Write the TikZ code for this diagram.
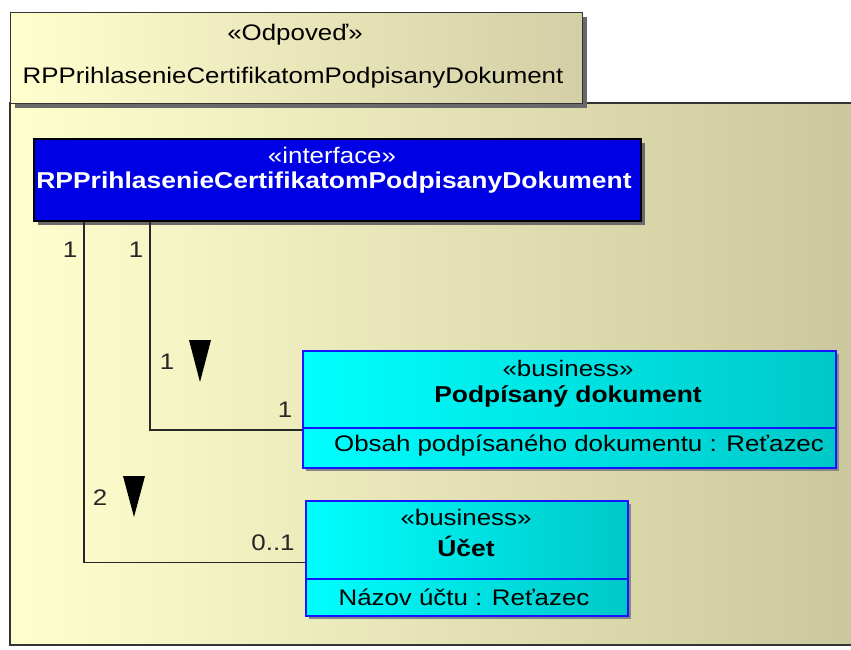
\documentclass[tikz,border=0pt]{standalone}
\usepackage{fontspec}
\setmainfont{Liberation Sans}[FakeStretch=1.15]
\usetikzlibrary{shadows}
\definecolor{pkL}{RGB}{255,255,206}
\definecolor{pkR}{RGB}{204,200,157}
\definecolor{tabR}{RGB}{212,207,166}
\definecolor{ifblue}{RGB}{0,0,228}
\definecolor{cyL}{RGB}{0,255,255}
\definecolor{cyR}{RGB}{0,200,200}
\definecolor{bizline}{RGB}{20,20,255}
\definecolor{shd}{RGB}{105,105,105}
\definecolor{lnc}{RGB}{40,40,40}
\tikzset{
  every node/.style={font=\fontsize{22.5pt}{27pt}\selectfont, inner sep=0pt},
  boldtxt/.style={font=\fontsize{23pt}{27pt}\selectfont\bfseries},
  boxshadow/.style={general shadow={fill=shd, shadow xshift=4pt, shadow yshift=-4pt}},
  pkgtab/.style={rectangle, anchor=north west, left color=pkL, right color=tabR, draw=black!80, line width=1.2pt, boxshadow},
  ifbox/.style={rectangle, anchor=north west, fill=ifblue, draw=black, line width=1.6pt, boxshadow},
  bizbox/.style={rectangle, anchor=north west, left color=cyL, right color=cyR, draw=bizline, line width=1.6pt},
  conn/.style={draw=lnc, line width=1.2pt},
  mult/.style={text=black!85}
}
\begin{document}
\begin{tikzpicture}[x=1pt,y=-1pt]
\useasboundingbox (0,0) rectangle (851,650);
% package body
\shade[left color=pkL, right color=pkR] (10,103) rectangle (851,645);
\draw[black!80, line width=1.2pt] (851,103) -- (10,103) -- (10,645) -- (851,645);
% package tab
\node[pkgtab, minimum width=572pt, minimum height=91pt] (tab) at (10,12) {};
\node (tabst) at (295,35) {«Odpoveď»};
\node (tabname) at (293,78) {RPPrihlasenieCertifikatomPodpisanyDokument};
% interface
\node[ifbox, minimum width=607pt, minimum height=82pt] (iface) at (33,138) {};
\node[text=white] (ifst) at (332,155) {«interface»};
\node[boldtxt, text=white] (ifname) at (334,183) {RPPrihlasenieCertifikatomPodpisanyDokument};
% business box 1
\fill[shd!80] (306,354) rectangle (839,471);
\node[bizbox, minimum width=533pt, minimum height=77pt] (pd) at (302,350) {};
\node[bizbox, minimum width=533pt, minimum height=40pt] (pda) at (302,427) {};
\node (pdst) at (568,368) {«business»};
\node[boldtxt] (pdname) at (568,396) {Podpísaný dokument};
\node (pdattr) at (579,446) {Obsah podpísaného dokumentu : Reťazec};
% business box 2
\fill[shd!80] (309,504) rectangle (631,619);
\node[bizbox, minimum width=322pt, minimum height=78pt] (uc) at (305,500) {};
\node[bizbox, minimum width=322pt, minimum height=37pt] (uca) at (305,578) {};
\node (ucst) at (466,517) {«business»};
\node[boldtxt] (ucname) at (466,546) {Účet};
\node (ucattr) at (464,597) {Názov účtu : Reťazec};
% connectors
\draw[conn] ([xshift=117pt]iface.south west) |- ([yshift=-3pt]pda.north west);
\draw[conn] ([xshift=51pt]iface.south west) |- ([yshift=-23pt]uc.west);
% multiplicities
\node[mult] (m1) at (70,250) {1};
\node[mult] (m2) at (136,250) {1};
\node[mult] (m3) at (167,362) {1};
\node[mult] (m4) at (285,410) {1};
\node[mult] (m5) at (100,498) {2};
\node[mult] (m6) at (273,543) {0..1};
% direction triangles
\fill[black] (189,340) -- (211,340) -- (200,382) -- cycle;
\fill[black] (123,476) -- (145,476) -- (134,517) -- cycle;
\end{tikzpicture}
\end{document}
